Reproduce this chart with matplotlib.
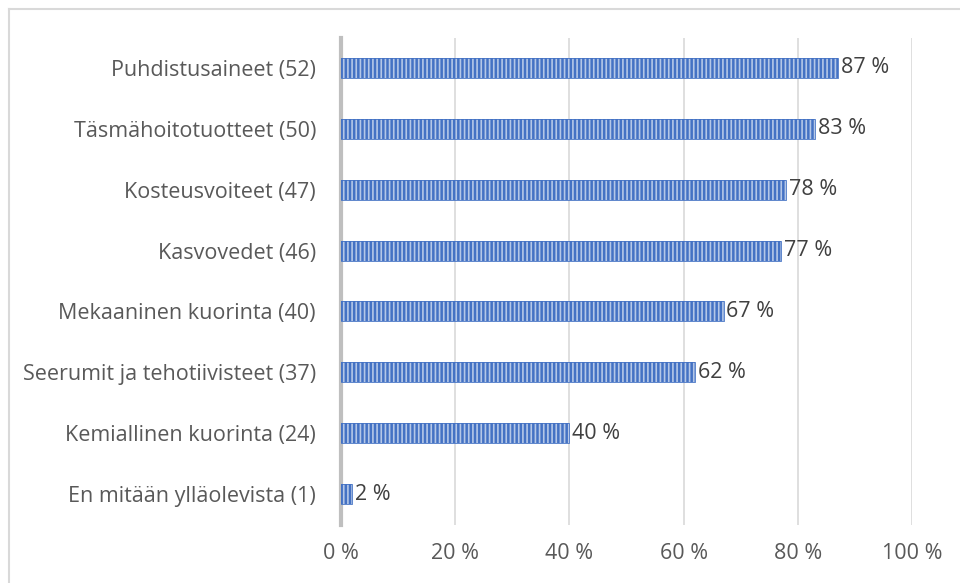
import matplotlib
matplotlib.use("Agg")
import matplotlib.pyplot as plt
from matplotlib.lines import Line2D

categories = [
    "Puhdistusaineet (52)",
    "Täsmähoitotuotteet (50)",
    "Kosteusvoiteet (47)",
    "Kasvovedet (46)",
    "Mekaaninen kuorinta (40)",
    "Seerumit ja tehotiivisteet (37)",
    "Kemiallinen kuorinta (24)",
    "En mitään ylläolevista (1)",
]
shares = [87, 83, 78, 77, 67, 62, 40, 2]
xticks = [0, 20, 40, 60, 80, 100]

plt.rcParams["font.family"] = ["Open Sans", "DejaVu Sans"]
plt.rcParams["hatch.linewidth"] = 1.2

fig = plt.figure(figsize=(9.6, 5.83), dpi=100)
W, H = 960, 583
ax = fig.add_axes([341 / W, (H - 524.5) / H, (912 - 341) / W, (524.5 - 37.5) / H])

y = list(range(len(categories)))
ax.barh(y, shares, height=0.33, color="#4472C4", edgecolor="#B4C7E7",
        hatch="||||", linewidth=0, zorder=3)
ax.barh(y, shares, height=0.33, color="none", edgecolor="#4472C4",
        linewidth=0.6, zorder=4)

for yi, v in zip(y, shares):
    ax.text(v + 0.5, yi, f"{v} %", va="center", ha="left", fontsize=15.5,
            color="#404040", zorder=5)

ax.set_ylim(len(categories) - 0.5, -0.5)
ax.set_xlim(0, 100)
ax.set_yticks(y)
ax.set_yticklabels(categories, fontsize=15.5, color="#595959")
ax.set_xticks(xticks)
ax.set_xticklabels([f"{t} %" for t in xticks], fontsize=15.5, color="#595959")
ax.tick_params(length=0)
ax.tick_params(axis="y", pad=18)
ax.tick_params(axis="x", pad=13)

ax.grid(axis="x", color="#D9D9D9", linewidth=1.2, zorder=0)
for s in ["top", "right", "bottom"]:
    ax.spines[s].set_visible(False)
ax.spines["left"].set_color("#BFBFBF")
ax.spines["left"].set_linewidth(3)
ax.spines["left"].set_zorder(2)

# frame around the chart area
fig.add_artist(Line2D([9 / W, 1], [1 - 9 / H, 1 - 9 / H], color="#D9D9D9", linewidth=1.5))
fig.add_artist(Line2D([9 / W, 9 / W], [0, 1 - 9 / H], color="#D9D9D9", linewidth=1.5))

fig.savefig("out.png", dpi=100)
